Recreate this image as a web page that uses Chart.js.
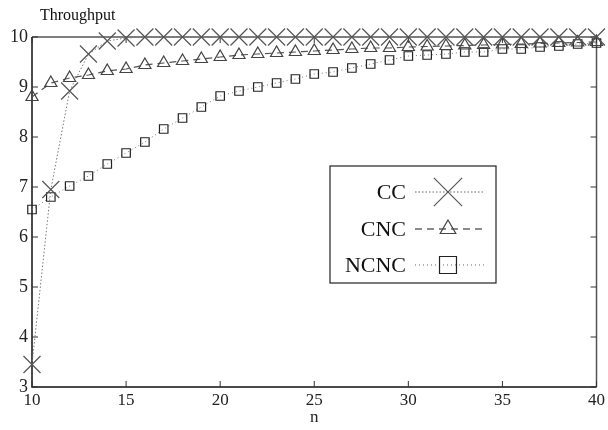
<!DOCTYPE html>
<html>
<head>
<meta charset="utf-8">
<script src="https://cdn.jsdelivr.net/npm/chart.js@4.4.1/dist/chart.umd.min.js"></script>
<style>
  html, body { margin: 0; padding: 0; background: #fff; }
  #wrap { width: 608px; height: 430px; position: relative; }
</style>
</head>
<body>
<div id="wrap"><canvas id="grafica" width="608" height="430"></canvas></div>
<script>
const nValues = [10, 11, 12, 13, 14, 15, 16, 17, 18, 19, 20, 21, 22, 23, 24, 25,
  26, 27, 28, 29, 30, 31, 32, 33, 34, 35, 36, 37, 38, 39, 40];

const cc = [3.45, 6.95, 8.92, 9.66, 9.92, 9.98, 10, 10, 10, 10, 10, 10, 10, 10, 10, 10,
  10, 10, 10, 10, 10, 10, 10, 10, 10, 10, 10, 10, 10, 10, 10];
const cnc = [8.8, 9.08, 9.18, 9.24, 9.32, 9.36, 9.44, 9.48, 9.52, 9.56, 9.6, 9.64, 9.66, 9.68, 9.7, 9.72,
  9.74, 9.76, 9.78, 9.78, 9.8, 9.81, 9.82, 9.83, 9.84, 9.85, 9.86, 9.87, 9.88, 9.89, 9.9];
const ncnc = [6.55, 6.8, 7.02, 7.22, 7.46, 7.68, 7.9, 8.16, 8.38, 8.6, 8.82, 8.92, 9.0, 9.08, 9.16, 9.26,
  9.3, 9.38, 9.46, 9.54, 9.62, 9.64, 9.66, 9.7, 9.7, 9.76, 9.76, 9.8, 9.82, 9.86, 9.88];

const xTicks = [10, 15, 20, 25, 30, 35, 40];
const yTicks = [3, 4, 5, 6, 7, 8, 9, 10];
const seriesNames = ['CC', 'CNC', 'NCNC'];

const fuente = '"Liberation Serif", "Times New Roman", serif';

function puntos(vals) {
  return nValues.map((n, i) => ({ x: n, y: vals[i] }));
}

// marco con ticks hacia adentro, titulo y leyenda
const marco = {
  id: 'marco',
  beforeDatasetsDraw(chart) {
    const ctx = chart.ctx;
    const a = chart.chartArea;
    const xs = chart.scales.x, ys = chart.scales.y;
    ctx.save();
    ctx.lineWidth = 1.5;
    ctx.strokeStyle = '#555';
    ctx.beginPath();
    ctx.moveTo(a.left, a.top); ctx.lineTo(a.right, a.top); ctx.lineTo(a.right, a.bottom);
    ctx.stroke();
    ctx.strokeStyle = '#111';
    ctx.beginPath();
    ctx.moveTo(a.left, a.top); ctx.lineTo(a.left, a.bottom); ctx.lineTo(a.right, a.bottom);
    ctx.stroke();

    ctx.lineWidth = 1;
    ctx.strokeStyle = '#333';
    ctx.beginPath();
    xTicks.forEach(t => {
      const px = xs.getPixelForValue(t);
      ctx.moveTo(px, a.bottom); ctx.lineTo(px, a.bottom - 6);
      ctx.moveTo(px, a.top); ctx.lineTo(px, a.top + 6);
    });
    yTicks.forEach(t => {
      const py = ys.getPixelForValue(t);
      ctx.moveTo(a.left, py); ctx.lineTo(a.left + 6, py);
      ctx.moveTo(a.right, py); ctx.lineTo(a.right - 6, py);
    });
    ctx.stroke();

    ctx.fillStyle = '#111';
    ctx.font = '16px ' + fuente;
    ctx.textAlign = 'left';
    ctx.textBaseline = 'alphabetic';
    ctx.fillText('Throughput', 40, 20);
    ctx.restore();
  },
  afterDatasetsDraw(chart) {
    const ctx = chart.ctx;
    ctx.save();
    // leyenda
    const lx = 330, ly = 166, lw = 166, lh = 117;
    ctx.fillStyle = '#fff';
    ctx.fillRect(lx, ly, lw, lh);
    ctx.lineWidth = 1.2;
    ctx.strokeStyle = '#222';
    ctx.strokeRect(lx, ly, lw, lh);

    const filas = [192, 229, 265];
    chart.data.datasets.forEach((ds, i) => {
      const y = filas[i];
      ctx.fillStyle = '#111';
      ctx.font = '22px ' + fuente;
      ctx.textAlign = 'right';
      ctx.textBaseline = 'middle';
      ctx.fillText(seriesNames[i], 406, y + 1);

      ctx.strokeStyle = '#666';
      ctx.lineWidth = i === 1 ? 1.5 : 1;
      ctx.setLineDash(ds.borderDash);
      ctx.beginPath();
      ctx.moveTo(415, y); ctx.lineTo(485, y);
      ctx.stroke();
      ctx.setLineDash([]);
      ctx.strokeStyle = ds.pointBorderColor;
      ctx.fillStyle = 'rgba(0,0,0,0)';
      ctx.lineWidth = 1.2;
      Chart.helpers.drawPoint(ctx, {
        pointStyle: ds.pointStyle,
        radius: ds.legendRadius,
        borderWidth: 1.2
      }, 448, y);
    });
    ctx.restore();
  }
};

new Chart(document.getElementById('grafica'), {
  type: 'line',
  data: {
    datasets: [
      {
        label: seriesNames[0],
        data: puntos(cc),
        borderColor: '#777',
        borderWidth: 1,
        borderDash: [1.5, 2],
        pointStyle: 'crossRot',
        pointRadius: 12,
        pointBorderColor: '#555',
        pointBorderWidth: 1.2,
        pointBackgroundColor: 'transparent',
        legendRadius: 20,
        clip: false,
        tension: 0
      },
      {
        label: seriesNames[1],
        data: puntos(cnc),
        borderColor: '#555',
        borderWidth: 1.2,
        borderDash: [7, 5],
        pointStyle: 'triangle',
        pointRadius: 7,
        pointBorderColor: '#444',
        pointBorderWidth: 1.2,
        pointBackgroundColor: 'transparent',
        legendRadius: 9,
        clip: false,
        tension: 0
      },
      {
        label: seriesNames[2],
        data: puntos(ncnc),
        borderColor: '#777',
        borderWidth: 1,
        borderDash: [1, 3],
        pointStyle: 'rect',
        pointRadius: 6,
        pointBorderColor: '#222',
        pointBorderWidth: 1.2,
        pointBackgroundColor: 'transparent',
        legendRadius: 12,
        clip: false,
        tension: 0
      }
    ]
  },
  options: {
    responsive: false,
    animation: false,
    devicePixelRatio: 1,
    layout: { autoPadding: false, padding: { top: 37, right: 0, left: 0, bottom: 0 } },
    plugins: {
      legend: { display: false },
      tooltip: { enabled: false }
    },
    scales: {
      x: {
        type: 'linear',
        min: 10, max: 40,
        afterBuildTicks: s => { s.ticks = xTicks.map(v => ({ value: v })); },
        afterFit: s => { s.height = 43; },
        grid: { display: false, drawTicks: false },
        border: { display: false },
        ticks: { color: '#222', padding: 3, autoSkip: false, maxRotation: 0,
          font: { family: fuente, size: 17 } },
        title: { display: true, text: 'n', color: '#222', padding: { top: 0, bottom: 2 },
          font: { family: fuente, size: 17 } }
      },
      y: {
        type: 'linear',
        min: 3, max: 10,
        afterBuildTicks: s => { s.ticks = yTicks.map(v => ({ value: v })); },
        afterFit: s => { s.width = 32; },
        grid: { display: false, drawTicks: false },
        border: { display: false },
        ticks: { color: '#222', padding: 4, autoSkip: false, font: { family: fuente, size: 18 } }
      }
    }
  },
  plugins: [marco]
});
</script>
</body>
</html>
